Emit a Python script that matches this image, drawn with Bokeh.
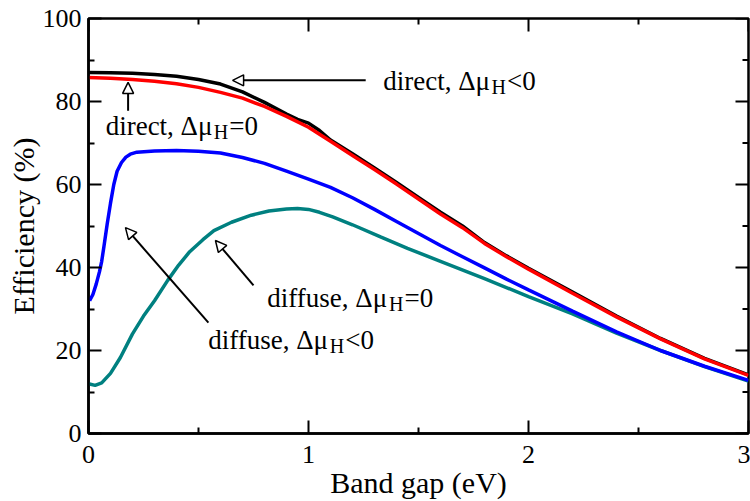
import math
from bokeh.plotting import figure
from bokeh.models import Label, Arrow, NormalHead, FixedTicker, Range1d
from bokeh.embed import file_html
from bokeh.resources import INLINE

# ---- data ----
x_direct_neg = [0.0, 0.1, 0.2, 0.3, 0.4, 0.5, 0.6, 0.7, 0.8, 0.9, 0.95, 1.0, 1.05, 1.1, 1.2, 1.3,
                1.4, 1.5, 1.6, 1.7, 1.8, 1.9, 2.0, 2.2, 2.4, 2.6, 2.8, 3.0]
y_direct_neg = [87.0, 86.9, 86.8, 86.5, 86.1, 85.3, 84.2, 82.3, 79.8, 77.0, 75.7, 74.8, 73.0, 70.7, 67.4, 64.0,
                60.5, 56.9, 53.3, 50.0, 46.0, 42.8, 39.8, 34.1, 28.3, 22.9, 18.1, 14.1]

x_direct_zero = [0.0, 0.1, 0.2, 0.3, 0.4, 0.5, 0.6, 0.7, 0.8, 0.9, 1.0, 1.1, 1.2, 1.3, 1.4, 1.5,
                 1.6, 1.7, 1.8, 1.9, 2.0, 2.2, 2.4, 2.6, 2.8, 3.0]
y_direct_zero = [85.8, 85.6, 85.3, 84.9, 84.3, 83.4, 82.2, 80.8, 78.8, 76.4, 73.8, 70.4, 67.0, 63.6, 60.1, 56.5,
                 52.9, 49.6, 45.8, 42.6, 39.6, 33.8, 28.1, 22.8, 18.0, 14.0]

x_diffuse_neg = [0.005, 0.02, 0.035, 0.05, 0.06, 0.07, 0.085, 0.1, 0.115, 0.13, 0.15, 0.17, 0.19, 0.22,
                 0.3, 0.4, 0.5, 0.6, 0.7, 0.8, 0.9, 1.0, 1.1, 1.2, 1.3, 1.4, 1.5, 1.6, 1.7, 1.8, 1.9,
                 2.0, 2.2, 2.4, 2.6, 2.8, 3.0]
y_diffuse_neg = [32.0, 33.5, 36.0, 39.0, 41.5, 45.0, 50.5, 55.5, 60.0, 63.2, 65.3, 66.6, 67.3, 67.8,
                 68.1, 68.2, 68.0, 67.6, 66.5, 65.1, 63.2, 61.3, 59.3, 56.8, 54.0, 51.1, 48.2, 45.3, 42.6,
                 39.9, 37.2, 34.6, 29.5, 24.5, 20.0, 16.2, 12.8]

x_diffuse_zero = [0.0, 0.03, 0.06, 0.1, 0.145, 0.2, 0.25, 0.3, 0.36, 0.41, 0.46, 0.52, 0.57, 0.65, 0.74,
                  0.82, 0.9, 0.95, 1.0, 1.05, 1.11, 1.2, 1.33, 1.45, 1.6, 1.8, 2.0, 2.2, 2.4, 2.6, 2.8, 3.0]
y_diffuse_zero = [12.0, 11.6, 12.2, 14.5, 18.3, 24.0, 28.3, 32.0, 36.9, 40.6, 43.8, 46.7, 48.9, 50.9, 52.6,
                  53.6, 54.1, 54.2, 54.0, 53.3, 52.2, 50.3, 47.3, 44.6, 41.5, 37.3, 33.0, 28.8, 24.2, 20.0,
                  16.1, 12.6]

x_lim = [0, 3]
y_lim = [0, 100]
x_ticks = [0, 1, 2, 3]
x_minor = [0.5, 1.5, 2.5]
y_ticks = [0, 20, 40, 60, 80, 100]
y_minor = [10, 30, 50, 70, 90]

ann_main = ["direct, \u0394\u03bc", "direct, \u0394\u03bc", "diffuse, \u0394\u03bc", "diffuse, \u0394\u03bc"]
ann_sub = ["H", "H", "H", "H"]
ann_tail = ["<0", "=0", "=0", "<0"]
ann_x = [1.34, 0.078, 0.813, 0.544]
ann_y = [85.0, 74.2, 32.6, 22.5]

arr_x0 = [1.26, 0.18, 0.75, 0.545]
arr_y0 = [85.1, 77.8, 35.7, 26.7]
arr_x1 = [0.655, 0.18, 0.577, 0.168]
arr_y1 = [85.1, 84.6, 46.5, 49.6]

FONT = "Liberation Serif"
MAIN_PX = 27
SUB_PX = 20
MAJOR_LEN = 13
MINOR_LEN = 6

# approximate Times-metric advance widths (em)
W = {'d': .5, 'i': .278, 'r': .333, 'e': .444, 'c': .444, 't': .278, ',': .25, ' ': .25,
     '\u0394': .617, '\u03bc': .576, 'f': .333, 'u': .5, 's': .389, 'H': .722}


def text_width(s, px):
    return sum(W.get(ch, .5) for ch in s) * px


p = figure(frame_width=660, frame_height=415, output_backend="svg", toolbar_location=None,
           x_range=Range1d(*x_lim), y_range=Range1d(*y_lim),
           min_border_left=88, min_border_right=2, min_border_top=18, min_border_bottom=68)
p.grid.visible = False
p.background_fill_color = "white"
p.border_fill_color = "white"
p.outline_line_color = "black"
p.outline_line_width = 2.5

p.xaxis.ticker = FixedTicker(ticks=x_ticks, minor_ticks=x_minor)
p.yaxis.ticker = FixedTicker(ticks=y_ticks, minor_ticks=y_minor)
p.xaxis.axis_label = "Band gap (eV)"
p.yaxis.axis_label = "Efficiency (%)"

for ax in (p.xaxis[0], p.yaxis[0]):
    ax.axis_line_width = 2.5
    ax.major_tick_in = MAJOR_LEN
    ax.major_tick_out = 0
    ax.minor_tick_in = MINOR_LEN
    ax.minor_tick_out = 0
    ax.major_tick_line_width = 2
    ax.minor_tick_line_width = 2
    ax.major_label_text_font = FONT
    ax.major_label_text_font_size = "26px"
    ax.major_label_text_color = "black"
    ax.axis_label_text_font = FONT
    ax.axis_label_text_font_size = "30px"
    ax.axis_label_text_font_style = "normal"
    ax.axis_label_text_color = "black"
p.xaxis.major_label_standoff = 12
p.xaxis.axis_label_standoff = 0
p.yaxis.major_label_standoff = 7
p.yaxis.axis_label_standoff = 0

# mirrored inward ticks on the top and right frame edges
p.ray(x=x_ticks, y=[y_lim[1]] * len(x_ticks), length=MAJOR_LEN, length_units="screen",
      angle=-math.pi / 2, line_color="black", line_width=2)
p.ray(x=x_minor, y=[y_lim[1]] * len(x_minor), length=MINOR_LEN, length_units="screen",
      angle=-math.pi / 2, line_color="black", line_width=2)
p.ray(x=[x_lim[1]] * len(y_ticks), y=y_ticks, length=MAJOR_LEN, length_units="screen",
      angle=math.pi, line_color="black", line_width=2)
p.ray(x=[x_lim[1]] * len(y_minor), y=y_minor, length=MINOR_LEN, length_units="screen",
      angle=math.pi, line_color="black", line_width=2)

p.line(x_diffuse_zero, y_diffuse_zero, line_color="#008080", line_width=3.5)
p.line(x_diffuse_neg, y_diffuse_neg, line_color="#0000ff", line_width=3.5)
p.line(x_direct_neg, y_direct_neg, line_color="black", line_width=3.5)
p.line(x_direct_zero, y_direct_zero, line_color="#ff0000", line_width=3.5)

for xs, ys, xe, ye in zip(arr_x0, arr_y0, arr_x1, arr_y1):
    p.add_layout(Arrow(x_start=xs, y_start=ys, x_end=xe, y_end=ye,
                       line_color="black", line_width=2,
                       end=NormalHead(size=11, fill_color="white", line_color="black", line_width=1.5)))

for m, s, t, x, y in zip(ann_main, ann_sub, ann_tail, ann_x, ann_y):
    wm = text_width(m, MAIN_PX) + 1
    ws = text_width(s, SUB_PX) + 1
    p.add_layout(Label(x=x, y=y, text=m, text_font=FONT, text_font_size=f"{MAIN_PX}px",
                       text_baseline="alphabetic", text_align="left", text_color="black"))
    p.add_layout(Label(x=x, y=y, x_offset=wm, y_offset=-6, text=s, text_font=FONT,
                       text_font_size=f"{SUB_PX}px", text_baseline="alphabetic",
                       text_align="left", text_color="black"))
    p.add_layout(Label(x=x, y=y, x_offset=wm + ws, text=t, text_font=FONT,
                       text_font_size=f"{MAIN_PX}px", text_baseline="alphabetic",
                       text_align="left", text_color="black"))

open("out.html", "w").write(file_html(p, INLINE))
